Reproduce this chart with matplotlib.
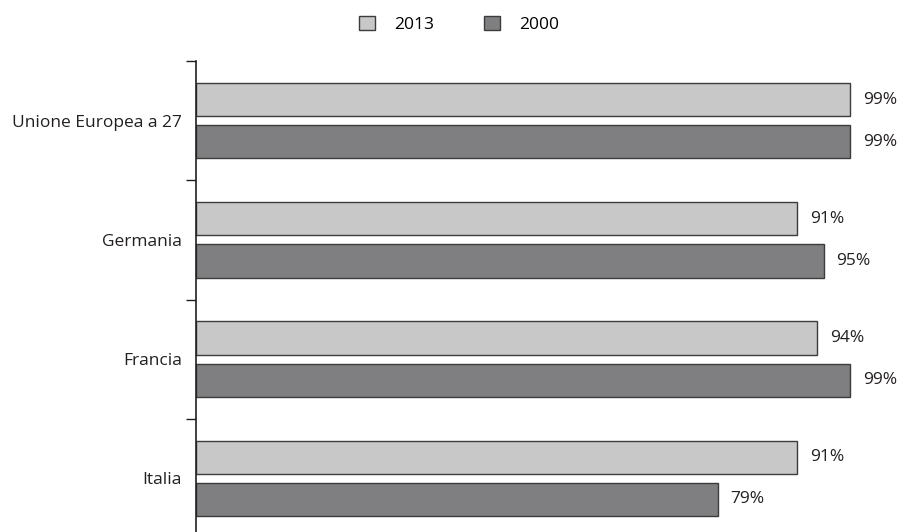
import matplotlib as mpl
import matplotlib.pyplot as plt
import numpy as np

mpl.rc('font', family='Open Sans', size=12.5)

paesi = ['Unione Europea a 27', 'Germania', 'Francia', 'Italia']
anni = ['2013', '2000']
quota_2013 = [99, 91, 94, 91]
quota_2000 = [99, 95, 99, 79]

colori = {'2013': '#c8c8c9', '2000': '#7f7f82'}
h = 0.28
off = 0.177

fig = plt.figure(figsize=(9.07, 5.32), dpi=100)
ax = fig.add_axes([196/907, -6/532, 1 - 196/907, 477/532])

y = np.arange(len(paesi))
for anno, vals, d in [('2013', quota_2013, -off), ('2000', quota_2000, off)]:
    bars = ax.barh(y + d, vals, height=h, color=colori[anno],
                   edgecolor='#3c3c3c', lw=1.0, label=anno)
    for b, v in zip(bars, vals):
        ax.text(b.get_width() + 1.9, b.get_y() + h/2, f'{v}%',
                va='center', ha='left', color='#231f20')

ax.set_xlim(0, 107.6)
ax.set_ylim(len(paesi) - 0.5, -0.5)
ax.set_yticks(y, paesi, color='#231f20')
ax.tick_params(axis='y', which='major', length=0, pad=10)
ax.set_yticks(np.arange(len(paesi) + 1) - 0.5, minor=True)
ax.tick_params(axis='y', which='minor', length=7, width=1, color='#231f20')
ax.set_xticks([])
for s in ['top', 'right', 'bottom']:
    ax.spines[s].set_visible(False)
ax.spines['left'].set_color('#231f20')
ax.spines['left'].set_linewidth(1.2)

fig.legend(loc='upper center', bbox_to_anchor=(0.506, 1.0), ncol=2,
           frameon=False, handlelength=0.9, handleheight=0.9,
           columnspacing=2.9, handletextpad=1.1)

fig.savefig('out.png', dpi=100)
